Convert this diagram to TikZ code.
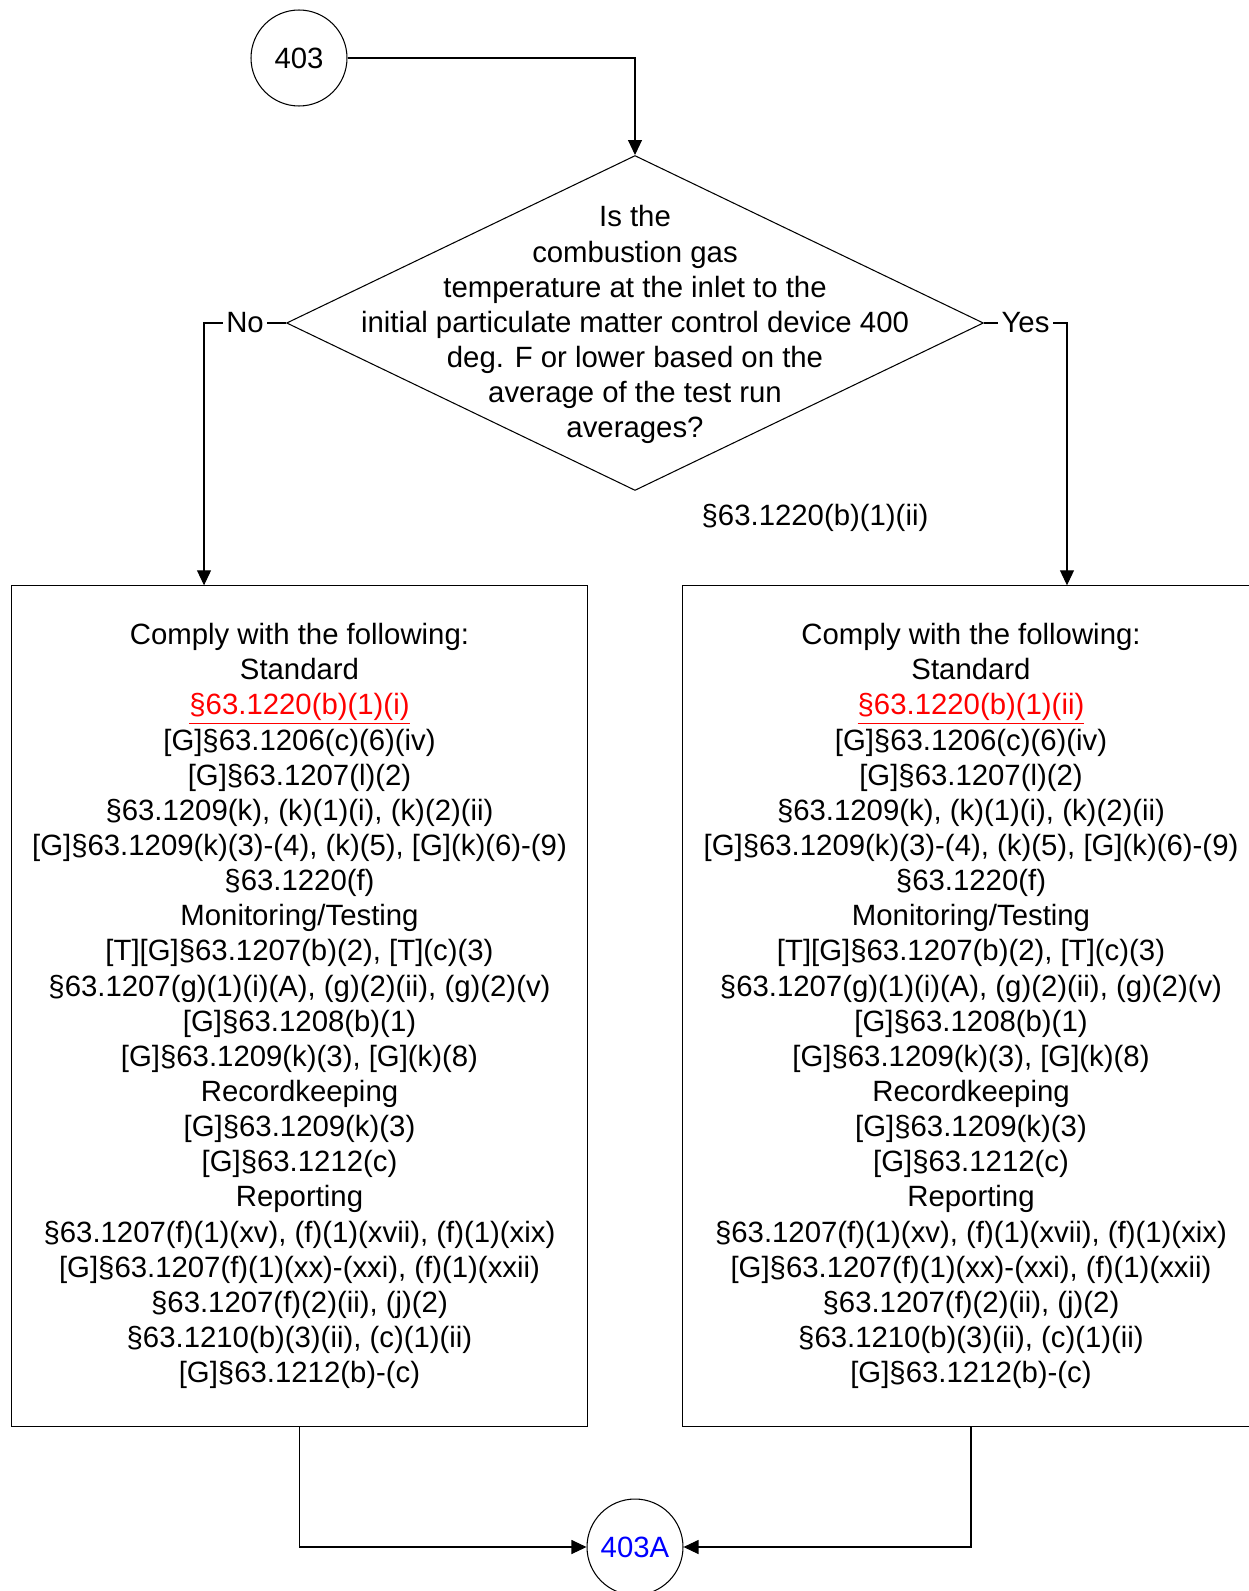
\documentclass[tikz,border=0pt]{standalone}
\usepackage{fontspec}
\setmainfont{Liberation Sans}
\usetikzlibrary{arrows.meta, positioning, shapes.geometric}
\definecolor{reflink}{RGB}{255,0,0}
\definecolor{pagelink}{RGB}{0,0,255}
\newcommand{\complylist}[1]{Comply with the following:\\
  Standard\\
  \textcolor{reflink}{\underline{#1}}\\
  {[G]}§63.1206(c)(6)(iv)\\
  {[G]}§63.1207(l)(2)\\
  §63.1209(k), (k)(1)(i), (k)(2)(ii)\\
  {[G]}§63.1209(k)(3)-(4), (k)(5), [G](k)(6)-(9)\\
  §63.1220(f)\\
  Monitoring/Testing\\
  {[T]}[G]§63.1207(b)(2), [T](c)(3)\\
  §63.1207(g)(1)(i)(A), (g)(2)(ii), (g)(2)(v)\\
  {[G]}§63.1208(b)(1)\\
  {[G]}§63.1209(k)(3), [G](k)(8)\\
  Recordkeeping\\
  {[G]}§63.1209(k)(3)\\
  {[G]}§63.1212(c)\\
  Reporting\\
  §63.1207(f)(1)(xv), (f)(1)(xvii), (f)(1)(xix)\\
  {[G]}§63.1207(f)(1)(xx)-(xxi), (f)(1)(xxii)\\
  §63.1207(f)(2)(ii), (j)(2)\\
  §63.1210(b)(3)(ii), (c)(1)(ii)\\
  {[G]}§63.1212(b)-(c)}

\begin{document}
\begin{tikzpicture}[>={Triangle[length=0.3cm, width=0.28cm]}, x=0.02cm, y=-0.02cm, line width=0.6pt,
  every node/.style={font=\fontsize{16.7}{20}\selectfont},
  pageconn/.style={draw, circle, minimum size=1.92cm, inner sep=0pt},
  decision/.style={draw, diamond, minimum width=13.94cm, minimum height=6.7cm, inner sep=0pt},
  rulebox/.style={draw, rectangle, minimum width=11.54cm, minimum height=16.81cm, align=center},
  answer/.style={fill=white, inner sep=2pt}]
  \useasboundingbox (0,0) rectangle (1248,1591);
  % Connectors in and out
  \node[pageconn] (start) at (299,58) {403};
  \node[pageconn, text=pagelink] (next) at (635,1547) {403A};
  % Question
  \node[decision, label={[align=center, yshift=-1pt]center:Is the\\ combustion gas\\ temperature at the inlet to the\\ initial particulate matter control device 400\\ deg. F or lower based on the\\ average of the test run\\ averages?}] (temp) at (635,323) {};
  \node (cite) at (815,518) {§63.1220(b)(1)(ii)};
  % Requirement boxes
  \node[rulebox] (lowtemp) at (299.5,1006) {\complylist{§63.1220(b)(1)(i)}};
  \node[rulebox] (hightemp) at (971,1006) {\complylist{§63.1220(b)(1)(ii)}};
  % Flow
  \draw[->] (start.east) -| (temp.north);
  \draw[->] (temp.west) -| node[answer, pos=0.25] {No} ([xshift=-1.91cm]lowtemp.north);
  \draw[->] (temp.east) -| node[answer, pos=0.25] {Yes} ([xshift=1.92cm]hightemp.north);
  \draw[->] (lowtemp.south) |- (next.west);
  \draw[->] (hightemp.south) |- (next.east);
\end{tikzpicture}
\end{document}
